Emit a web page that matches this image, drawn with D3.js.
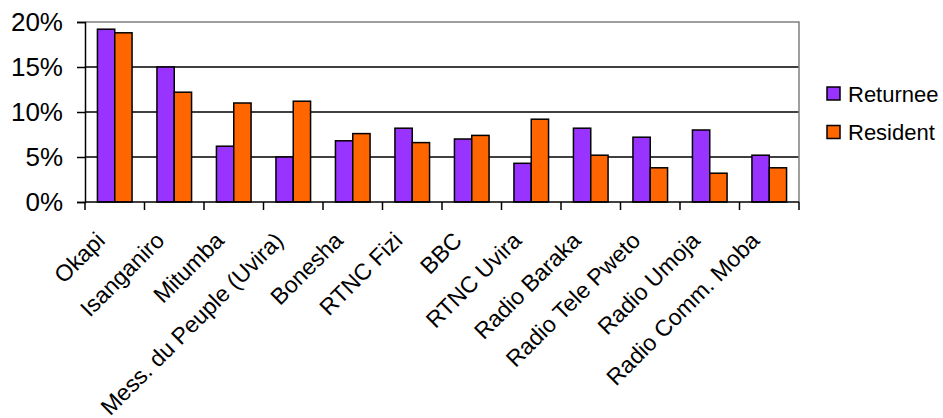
<!DOCTYPE html>
<html>
<head>
<meta charset="utf-8">
<script src="https://cdn.jsdelivr.net/npm/d3@7"></script>
<style>
  html, body { margin: 0; padding: 0; background: #fff; }
  svg { display: block; font-family: "Liberation Sans", Arial, sans-serif; }
</style>
</head>
<body>
<svg id="chart" width="943" height="418"></svg>
<script>
const categories = ["Okapi", "Isanganiro", "Mitumba", "Mess. du Peuple (Uvira)", "Bonesha", "RTNC Fizi", "BBC", "RTNC Uvira", "Radio Baraka", "Radio Tele Pweto", "Radio Umoja", "Radio Comm. Moba"];
const returnee = [19.2, 15.0, 6.2, 5.0, 6.8, 8.2, 7.0, 4.3, 8.2, 7.2, 8.0, 5.2];
const resident = [18.8, 12.2, 11.0, 11.2, 7.6, 6.6, 7.4, 9.2, 5.2, 3.8, 3.2, 3.8];
const seriesNames = ["Returnee", "Resident"];
const seriesColors = ["#9933FF", "#FF6600"];
const yTicks = [0, 5, 10, 15, 20];

const svg = d3.select("#chart");
const mLeft = 85, mRight = 799, mTop = 22, mBottom = 202;

const x = d3.scaleBand().domain(categories).range([mLeft, mRight]).paddingInner(0).paddingOuter(0);
const bw = x.bandwidth();
const barW = bw * 0.291;
const x1 = d3.scaleBand().domain(seriesNames).range([0, barW * 2]);
const groupOff = (bw - barW * 2) / 2;
const y = d3.scaleLinear().domain([0, 20]).range([mBottom, mTop]);

// gridlines
svg.append("g").selectAll("line").data(yTicks.filter(t => t > 0 && t < 20)).join("line")
  .attr("x1", mLeft).attr("x2", mRight)
  .attr("y1", d => y(d)).attr("y2", d => y(d))
  .attr("stroke", "#000").attr("stroke-width", 1.3);

// plot border (top, right)
svg.append("path")
  .attr("d", `M${mLeft},${y(20)}H${mRight}V${mBottom}`)
  .attr("fill", "none").attr("stroke", "#808080").attr("stroke-width", 1.5);

// bars
const data = [];
categories.forEach((c, i) => {
  data.push({ c, s: "Returnee", v: returnee[i], col: seriesColors[0] });
  data.push({ c, s: "Resident", v: resident[i], col: seriesColors[1] });
});
svg.append("g").selectAll("rect").data(data).join("rect")
  .attr("x", d => x(d.c) + groupOff + x1(d.s))
  .attr("y", d => y(d.v))
  .attr("width", x1.bandwidth())
  .attr("height", d => y(0) - y(d.v))
  .attr("fill", d => d.col)
  .attr("stroke", "#000").attr("stroke-width", 1.5);

// y axis
const yAxis = d3.axisLeft(y).tickValues(yTicks).tickFormat(d => d + "%").tickSize(8).tickPadding(14);
const gy = svg.append("g").attr("transform", `translate(${mLeft},0)`).call(yAxis);
gy.select(".domain").attr("stroke", "#000").attr("stroke-width", 1.5);
gy.selectAll(".tick line").attr("stroke", "#000").attr("stroke-width", 1.5);
gy.selectAll(".tick text").attr("font-size", 26).attr("fill", "#000")
  .attr("font-family", "Liberation Sans, Arial, sans-serif");

// x axis
const boundaries = categories.map(c => x(c)).concat([mRight]);
const gx = svg.append("g");
gx.append("line").attr("x1", mLeft).attr("x2", mRight).attr("y1", mBottom).attr("y2", mBottom)
  .attr("stroke", "#000").attr("stroke-width", 1.5);
gx.selectAll("line.tk").data(boundaries).join("line").attr("class", "tk")
  .attr("x1", d => d).attr("x2", d => d).attr("y1", mBottom).attr("y2", mBottom + 8)
  .attr("stroke", "#000").attr("stroke-width", 1.5);
gx.selectAll("text").data(categories).join("text")
  .attr("transform", d => `translate(${x(d) + bw / 2 - 8.5},${mBottom + 40}) rotate(-45)`)
  .attr("text-anchor", "end")
  .attr("font-size", 23).attr("fill", "#000")
  .text(d => d);

// legend
const lg = svg.append("g");
seriesNames.forEach((s, i) => {
  const yy = 87 + i * 38.5;
  lg.append("rect").attr("x", 827).attr("y", yy).attr("width", 13).attr("height", 13)
    .attr("fill", seriesColors[i]).attr("stroke", "#000").attr("stroke-width", 1.5);
  lg.append("text").attr("x", 848).attr("y", yy + 14.5).attr("font-size", 22).attr("fill", "#000").text(s);
});
</script>
</body>
</html>
